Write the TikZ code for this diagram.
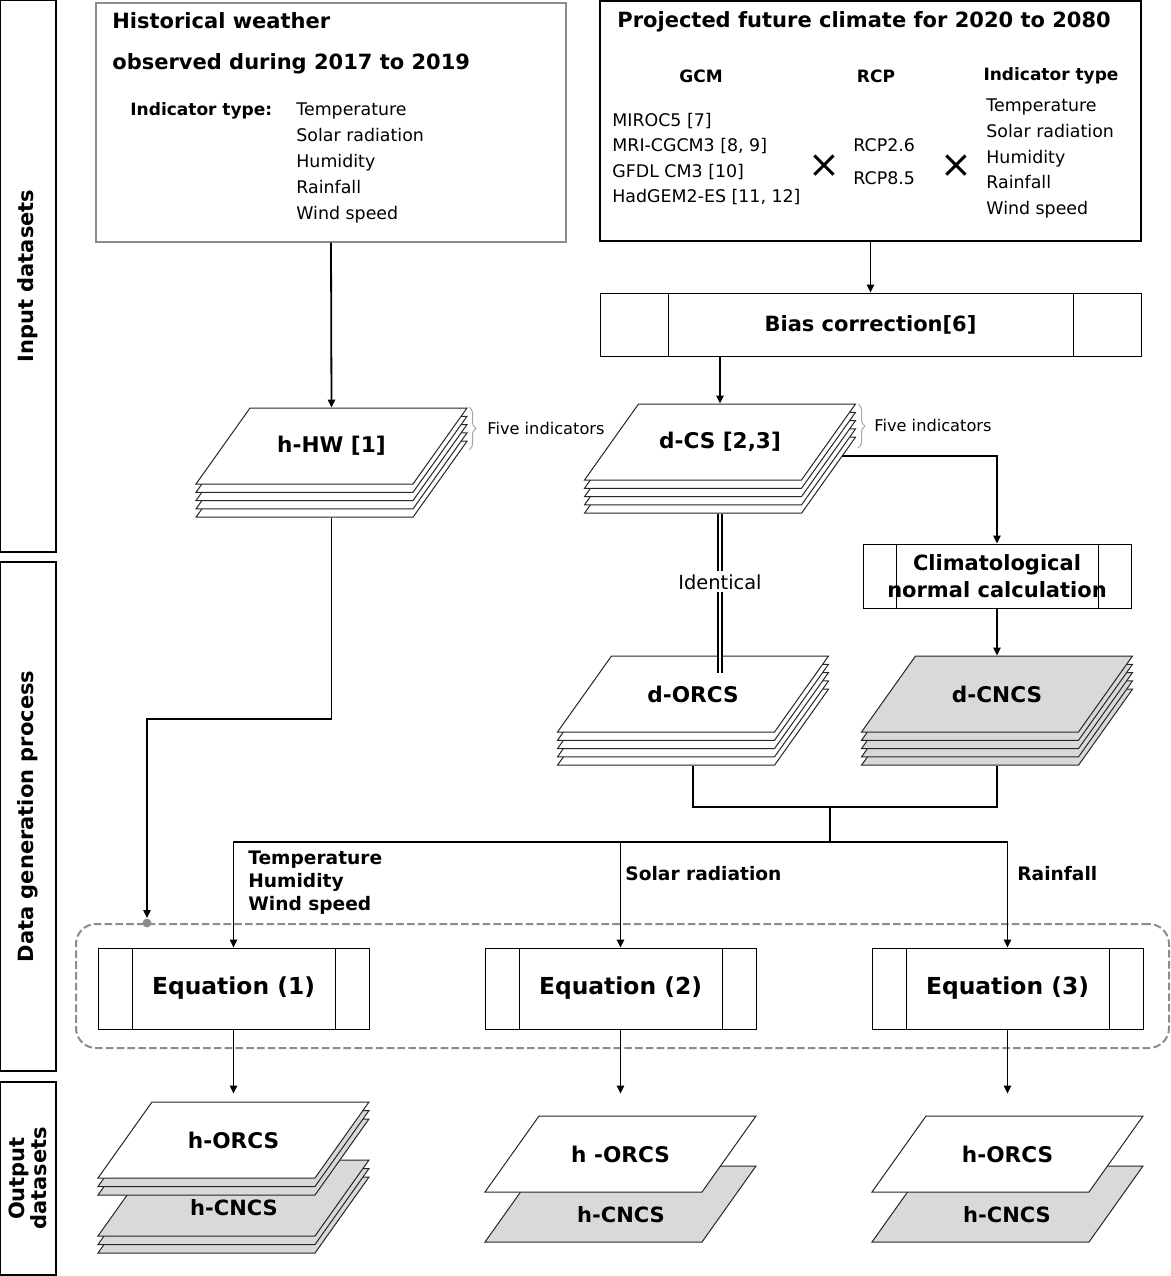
\documentclass[tikz,border=0pt]{standalone}
\usepackage{fontspec}
\setmainfont{DejaVu Sans}
\usetikzlibrary{positioning,arrows.meta,calc,backgrounds,decorations.pathreplacing}

\tikzset{
  sheetbox/.style={rectangle, minimum width=135.5pt, minimum height=38pt, inner sep=0pt,
    font=\bfseries\fontsize{10.8}{12}\selectfont},
  sheetlabel/.style={inner sep=0pt, font=\bfseries\fontsize{10.5}{12}\selectfont},
  procbox/.style={draw, line width=0.5pt, rectangle, inner sep=0pt,
    path picture={\draw[line width=0.5pt] ([xshift=#1]path picture bounding box.north west) -- ([xshift=#1]path picture bounding box.south west)
      ([xshift=-#1]path picture bounding box.north east) -- ([xshift=-#1]path picture bounding box.south east);}},
  secbox/.style={draw, line width=0.6pt, rotate=90, minimum height=28pt, inner sep=0pt, align=center,
    font=\bfseries\fontsize{10.5}{11}\selectfont},
  title/.style={anchor=west, align=left, inner sep=0pt, font=\bfseries\fontsize{10.5}{20.5}\selectfont},
  hdr/.style={inner sep=0pt, font=\bfseries\fontsize{8.5}{10}\selectfont},
  items/.style={anchor=west, align=left, inner sep=0pt, font=\fontsize{8.7}{#1}\selectfont},
  cross/.style={inner sep=0pt, font=\fontsize{19}{19}\selectfont},
  varlabel/.style={anchor=west, align=left, inner sep=0pt, font=\bfseries\fontsize{9.3}{11.5}\selectfont},
  note/.style={anchor=west, inner sep=0pt, font=\fontsize{8.1}{10}\selectfont},
  link/.style={line width=0.9pt, -{Triangle[length=4pt,width=3.6pt]}},
  wire/.style={line width=0.9pt},
  twin/.style={double, line width=0.6pt, double distance=1.4pt},
  fivebrace/.style={black!35, line width=0.5pt, decorate, decoration={brace, amplitude=3.5pt}}
}

% one sheet of a dataset stack: name, x, y, fill, label
\newcommand{\datasheet}[5]{%
  \filldraw[fill=#4, draw=black!85, line width=0.5pt] ({#2-135.5},{#3+38}) -- ++(217,0) -- ++(54,-76) -- ++(-217,0) -- cycle;
  \node[sheetbox] (#1) at ({#2},{#3}) {#5};}

\begin{document}
\begin{tikzpicture}[x=0.5pt, y=-0.5pt]
  \useasboundingbox (0,0) rectangle (1171,1276);

  % left section labels
  \node[secbox, minimum width=276pt] (secin) at (28,276) {Input datasets};
  \node[secbox, minimum width=254.5pt] (secgen) at (28,816.5) {Data generation process};
  \node[secbox, minimum width=96.5pt] (secout) at (28,1178.5) {Output\\datasets};

  % historical weather
  \node[draw=black!45, line width=0.6pt, minimum width=235pt, minimum height=119.5pt, inner sep=0pt] (hist) at (331,122.5) {};
  \node[title] (histtitle) at (112,43) {Historical weather\\observed during 2017 to 2019};
  \node[hdr, anchor=west] (histhdr) at (130,111) {Indicator type:};
  \node[items=13pt] (histlist) at (296,163) {Temperature\\Solar radiation\\Humidity\\Rainfall\\Wind speed};

  % projected climate
  \node[draw, line width=0.6pt, minimum width=270.5pt, minimum height=120pt, inner sep=0pt] (proj) at (870.5,121) {};
  \node[title] (projtitle) at (617,22) {Projected future climate for 2020 to 2080};
  \node[hdr] (gcmhdr) at (701,76) {GCM};
  \node[hdr] (rcphdr) at (876,76) {RCP};
  \node[hdr] (indhdr) at (1051,76) {Indicator type};
  \node[items=12.6pt] (gcmlist) at (612,159) {MIROC5 [7]\\MRI-CGCM3 [8, 9]\\GFDL CM3 [10]\\HadGEM2-ES [11, 12]};
  \node[cross] (crossa) at (824,166) {×};
  \node[items=16.5pt] (rcplist) at (853,161.5) {RCP2.6\\RCP8.5};
  \node[cross] (crossb) at (956,166) {×};
  \node[items=12.9pt] (indlist) at (986,158.5) {Temperature\\Solar radiation\\Humidity\\Rainfall\\Wind speed};

  \node[procbox=34pt, minimum width=270.5pt, minimum height=31.5pt, font=\bfseries\fontsize{10.5}{12}\selectfont] (bias) at (870.5,324.5) {Bias correction[6]};

  % d-CS to climatological normal, behind the stack
  \coordinate (dcsout) at (720,456);

  % stacks of five indicators
  \foreach \k in {4,...,1} \datasheet{hhw-\k}{331.5}{446+8.3*\k}{white}{};
  \datasheet{hhw}{331.5}{446}{white}{h-HW [1]}
  \foreach \k in {4,...,1} \datasheet{dcs-\k}{720}{442+8.3*\k}{white}{};
  \datasheet{dcs}{720}{442}{white}{d-CS [2,3]}
  \foreach \k in {4,...,1} \datasheet{dorcs-\k}{693}{694+8.3*\k}{white}{};
  \datasheet{dorcs}{693}{694}{white}{d-ORCS}
  \foreach \k in {4,...,1} \datasheet{dcncs-\k}{997}{694+8.3*\k}{black!15}{};
  \datasheet{dcncs}{997}{694}{black!15}{d-CNCS}

  \draw[fivebrace] (469,407) -- (469,450);
  \node[note] (notea) at (487,428) {Five indicators};
  \draw[fivebrace] (858,404) -- (858,448);
  \node[note] (noteb) at (874,425) {Five indicators};

  \node[procbox=16.5pt, minimum width=134pt, minimum height=32pt, align=center, font=\bfseries\fontsize{10.5}{13.5}\selectfont] (clim) at (997,576) {Climatological\\normal calculation};

  % equations
  \node[draw=black!45, line width=1pt, dash pattern=on 3.8pt off 1.6pt, rounded corners=10pt, minimum width=546.5pt, minimum height=62pt] (grp) at (622.5,986) {};
  \node[procbox=17pt, minimum width=135.5pt, minimum height=40.5pt, font=\bfseries\fontsize{11.7}{14}\selectfont] (eqa) at (233.5,988.5) {Equation (1)};
  \node[procbox=17pt, minimum width=135.5pt, minimum height=40.5pt, font=\bfseries\fontsize{11.7}{14}\selectfont] (eqb) at (620.5,988.5) {Equation (2)};
  \node[procbox=17pt, minimum width=135.5pt, minimum height=40.5pt, font=\bfseries\fontsize{11.7}{14}\selectfont] (eqc) at (1007.5,988.5) {Equation (3)};

  % outputs
  \foreach \k in {2,1} \datasheet{hcncsa-\k}{233.5}{1198+8.5*\k}{black!15}{};
  \datasheet{hcncsa}{233.5}{1198}{black!15}{}
  \foreach \k in {2,1} \datasheet{horcsa-\k}{233.5}{1140+8.5*\k}{black!15}{};
  \datasheet{horcsa}{233.5}{1140}{white}{h-ORCS}
  \node[sheetlabel] (hcncsatext) at (234,1208) {h-CNCS};
  \datasheet{hcncsb}{620.5}{1204}{black!15}{}
  \datasheet{horcsb}{620.5}{1154}{white}{h -ORCS}
  \node[sheetlabel] (hcncsbtext) at (621,1215) {h-CNCS};
  \datasheet{hcncsc}{1007.5}{1204}{black!15}{}
  \datasheet{horcsc}{1007.5}{1154}{white}{h-ORCS}
  \node[sheetlabel] (hcncsctext) at (1007,1215) {h-CNCS};

  % connectors
  \draw[link] (hist.south) -- (hhw.north);
  \draw[link] (proj.south) -- (bias.north);
  \draw[link] (bias.south -| dcs.north) -- (dcs.north);
  \begin{scope}[on background layer]
    \draw[link] (dcsout) -| (clim.north);
  \end{scope}
  \draw[link] (clim.south) -- (dcncs.north);
  \draw[twin] (dcs-4.south) -- node[pos=0.43, fill=white, inner sep=1.5pt, font=\fontsize{9.7}{11}\selectfont] (identical) {Identical} ($(dcs-4.south |- dorcs.north)+(0,17)$);

  \coordinate (hwbend) at (147,719);
  \draw[link, shorten >=2.5pt] (hhw-4.south) |- (hwbend) -- (hwbend |- grp.north);
  \fill[black!45] (hwbend |- grp.north) circle (2.2pt);

  \coordinate (merge) at (830,807);
  \coordinate (split) at (830,842);
  \draw[wire] (dorcs-4.south) |- (merge) -| (dcncs-4.south);
  \draw[wire] (merge) -- (split);
  \draw[link] (split) -| (eqa.north);
  \draw[link] (split) -| (eqc.north);
  \draw[link] (split -| eqb.north) -- (eqb.north);
  \node[varlabel] (vara) at (248,883) {Temperature\\Humidity\\Wind speed};
  \node[varlabel] (varb) at (625,874) {Solar radiation};
  \node[varlabel] (varc) at (1017,874) {Rainfall};

  \draw[link, line width=0.75pt, shorten >=4pt] (eqa.south) -- (horcsa.north);
  \draw[link, line width=0.75pt, shorten >=11pt] (eqb.south) -- (horcsb.north);
  \draw[link, line width=0.75pt, shorten >=11pt] (eqc.south) -- (horcsc.north);
\end{tikzpicture}
\end{document}
